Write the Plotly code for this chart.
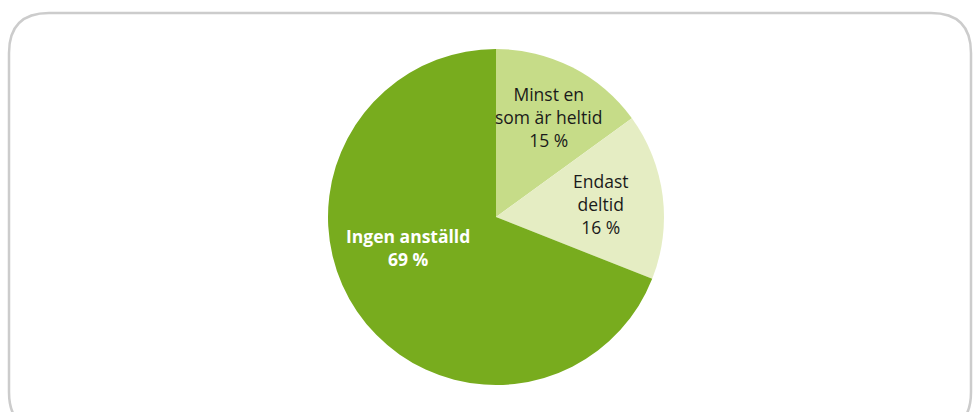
import plotly.graph_objects as go

# ---------------------------------------------------------------------------
# Data
# ---------------------------------------------------------------------------
labels = ["Minst en<br>som är heltid", "Endast<br>deltid", "Ingen anställd"]
values = [15, 16, 69]
colors = ["#c6dc88", "#e5edc3", "#78ac1e"]

W, H = 975, 412


def px_x(x):
    return x / W


def px_y(y):
    return 1 - y / H


# label anchors in pixels (text centre)
label_pos = [(548, 117), (600, 204), (408, 248)]
label_color = ["#1a1a1a", "#1a1a1a", "#ffffff"]
label_bold = [False, False, True]

fig = go.Figure(go.Pie(
    labels=labels,
    values=values,
    sort=False,
    direction="clockwise",
    rotation=0,
    marker=dict(colors=colors, line=dict(width=0)),
    textinfo="none",
    hoverinfo="label+percent",
    showlegend=False,
    domain=dict(x=[px_x(328), px_x(664)], y=[px_y(385), px_y(49)]),
))

annotations = []
for lab, val, (x, y), col, bold in zip(labels, values, label_pos, label_color, label_bold):
    txt = f"{lab}<br>{val} %"
    if bold:
        txt = f"<b>{lab}<br>{val} %</b>"
    annotations.append(dict(
        x=px_x(x), y=px_y(y), xref="paper", yref="paper",
        xanchor="center", yanchor="middle",
        text=txt, showarrow=False, align="center",
        font=dict(family="Open Sans, Noto Sans, sans-serif", size=17.5, color=col),
    ))

# rounded frame (partly clipped at right and bottom)
x0, y0, x1, y1, r = 9, 13, 971, 432, 40
path = (
    f"M {px_x(x0 + r)},{px_y(y0)} L {px_x(x1 - r)},{px_y(y0)} "
    f"Q {px_x(x1)},{px_y(y0)} {px_x(x1)},{px_y(y0 + r)} "
    f"L {px_x(x1)},{px_y(y1 - r)} "
    f"Q {px_x(x1)},{px_y(y1)} {px_x(x1 - r)},{px_y(y1)} "
    f"L {px_x(x0 + r)},{px_y(y1)} "
    f"Q {px_x(x0)},{px_y(y1)} {px_x(x0)},{px_y(y1 - r)} "
    f"L {px_x(x0)},{px_y(y0 + r)} "
    f"Q {px_x(x0)},{px_y(y0)} {px_x(x0 + r)},{px_y(y0)} Z"
)

fig.update_layout(
    width=W,
    height=H,
    margin=dict(l=0, r=0, t=0, b=0),
    paper_bgcolor="white",
    plot_bgcolor="white",
    annotations=annotations,
    shapes=[dict(type="path", xref="paper", yref="paper", path=path,
                 line=dict(color="#cccccc", width=2.5), layer="below")],
)

fig.write_html("out.html", config={"displayModeBar": False},
               post_script="document.body.style.margin='0';")
